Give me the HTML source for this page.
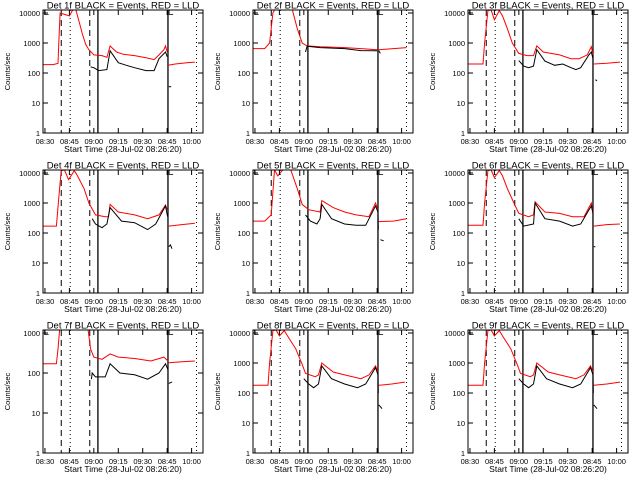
<!DOCTYPE html>
<html><head><meta charset="utf-8"><style>
body{margin:0;background:#fff}
svg{display:block;font-family:"Liberation Sans",sans-serif}
</style></head><body>
<svg id="c" width="640" height="480" viewBox="0 0 640 480"></svg>
<script>
const panelTitles=["Det 1f","Det 2f","Det 3f","Det 4f","Det 5f","Det 6f","Det 7f","Det 8f","Det 9f"];
const tickMinutes=[0,15,30,45,60,75,90];
const tickLabels=["08:30","08:45","09:00","09:15","09:30","08:45","10:00"];
const yMaxDecades=[4,4,4,4,4,4,3,4,4];
const vLineMinutes=[10,15.5,27.5,32.5,75.5,93];
const vLineStyles=["dash","dot","dash","solid","solid","dot"];
const red1=[[-1.2,190],[5,190],[8,210],[8.6,1500],[9.3,10000],[12,9000],[15,8000],[17,13000],[19,13000],[21,5000],[23,2000],[25,900],[27,600],[30,400],[35,380],[38,330],[40,800],[41,700],[44,500],[48,420],[55,380],[62,320],[67,280],[70,400],[73,600],[74,800],[75,500]];
const red1b=[[75.5,180],[80,200],[87,220],[92,230]];
const blk1=[[28,160],[30,150],[33,120],[38,130],[40,550],[45,220],[50,180],[55,150],[62,120],[67,120],[70,300],[74,500],[75,350]];
const blk1b=[[76,35],[77.5,35]];
const red2=[[-1.2,650],[6,650],[9,1000],[11,10000],[12,13000],[23,13000],[26,3000],[29,1000],[32,800],[40,750],[55,700],[65,650],[75,600]];
const red2b=[[76,600],[80,620],[93,700]];
const blk2=[[31,500],[32,780],[40,700],[55,650],[65,560],[75,550]];
const blk2b=[[76,550],[77,450]];
const red3=[[-1.2,200],[8,200],[9,1000],[11,12000],[13,13000],[15,6000],[18,12000],[20,8000],[23,3000],[26,1000],[30,450],[35,380],[39,380],[41,800],[45,500],[55,400],[62,300],[67,300],[72,400],[74.5,750],[75.5,400]];
const red3b=[[76,200],[84,210],[92,230]];
const blk3=[[30,260],[33,170],[36,150],[39,170],[41,600],[46,250],[52,180],[57,200],[62,150],[65,130],[68,150],[73,400],[74.5,500],[75.5,300]];
const blk3b=[[77,60],[78,55]];
const red4=[[-1.2,170],[7,170],[8.5,1500],[10,12000],[12,13000],[14.5,6000],[18,12000],[20,8000],[24,3000],[27,1000],[31,400],[37,350],[39,350],[40,900],[45,500],[55,400],[63,300],[70,400],[74,850],[75,600]];
const red4b=[[76,170],[84,190],[92,210]];
const blk4=[[29,300],[31,200],[35,150],[38,200],[40,700],[47,250],[55,220],[63,130],[68,200],[74,800],[75.3,350]];
const blk4b=[[76,35],[77,40],[78,30]];
const red5=[[-1.2,250],[6,250],[10,400],[12,13000],[14,8000],[17,13000],[22,13000],[26,3000],[29,900],[33,600],[40,500],[41,1200],[48,700],[55,500],[62,400],[70,350],[74,1000],[75.5,600]];
const red5b=[[76,240],[85,250],[93,300]];
const blk5=[[31,400],[34,250],[38,200],[40,300],[41,900],[47,300],[55,200],[62,180],[68,180],[74,800],[75.5,500],[75.7,130]];
const blk5b=[[77,60],[79,55]];
const red6=[[-1.2,180],[8,180],[9,1000],[11,12000],[13,13000],[15,7000],[18,12000],[20,8000],[23,3000],[27,1000],[30,450],[36,350],[39,400],[40,1100],[46,500],[55,450],[63,350],[70,350],[74.5,1000],[75.5,500]];
const red6b=[[76,170],[84,190],[92,200]];
const blk6=[[30,300],[33,170],[39,200],[40,1000],[46,300],[55,250],[63,170],[68,200],[74.5,800],[75.5,450]];
const blk6b=[[76,35],[77,35]];
const red7=[[-1.2,170],[7,170],[8,400],[9,1300]];
const red7m=[[26.5,1300],[28,400],[30,250],[35,220],[40,300],[45,250],[55,230],[65,200],[73,250],[75.5,200]];
const red7b=[[76,180],[84,190],[92,200]];
const blk7=[[28.5,70],[29,100],[31,80],[37,80],[40,170],[46,100],[55,90],[63,70],[70,100],[74,170],[75.5,120]];
const blk7b=[[76,55],[78,60]];
const red8=[[-1.2,180],[8,180],[9,1000],[11,12000],[13,13000],[15,8000],[18,12000],[20,8000],[25,3000],[29,900],[31,450],[37,350],[39,400],[41,1000],[48,500],[55,400],[65,300],[70,400],[74,800],[75.5,500]];
const red8b=[[76,180],[84,200],[92,230]];
const blk8=[[30,300],[33,200],[36,150],[39,200],[41,800],[47,300],[55,200],[63,150],[68,200],[74,700],[75.5,400],[75.7,100]];
const blk8b=[[76,40],[77,35],[78,30]];
const red9=[[-1.2,180],[8,180],[9,1000],[11,12000],[13,13000],[15,8000],[18,12000],[20,8000],[25,3000],[29,900],[31,450],[37,350],[39,400],[41,1000],[48,500],[55,400],[65,300],[70,400],[74,800],[75.5,500]];
const red9b=[[76,180],[84,200],[92,230]];
const blk9=[[30,300],[33,200],[36,150],[39,200],[41,800],[47,300],[55,200],[63,150],[68,200],[74,700],[75.5,400],[75.7,100]];
const blk9b=[[76,40],[77,35],[78,30]];
const redSeries=[[red1,red1b],[red2,red2b],[red3,red3b],[red4,red4b],[red5,red5b],[red6,red6b],[red7,red7m,red7b],[red8,red8b],[red9,red9b]];
const blkSeries=[[blk1,blk1b],[blk2,blk2b],[blk3,blk3b],[blk4,blk4b],[blk5,blk5b],[blk6,blk6b],[blk7,blk7b],[blk8,blk8b],[blk9,blk9b]];

const NS="http://www.w3.org/2000/svg";
const svg=document.getElementById('c');
function mk(tag,attrs,parent){const e=document.createElementNS(NS,tag);for(const k in attrs)e.setAttribute(k,attrs[k]);parent.appendChild(e);return e;}
const colX=[0,210,425], rowY=[0,160,320];
for(let p=0;p<9;p++){
  const ox=colX[p%3], oy=rowY[Math.floor(p/3)];
  const L=ox+43,R=ox+203,T=oy+10,B=oy+133;
  const dMax=yMaxDecades[p], topV=dMax+(dMax==4?0.1:0.075);
  const xs=m=>L+(m+1.2)/(98.2)*(R-L);
  const ys=v=>{let lv=Math.log10(Math.max(v,1));lv=Math.min(lv,topV);return B-lv/topV*(B-T);};
  const g=mk('g',{},svg);
  
  
  const clipId='cl'+p;
  const cp=mk('clipPath',{id:clipId},g);mk('rect',{x:L,y:T,width:R-L,height:B-T},cp);
  vLineMinutes.forEach((m,i)=>{const st=vLineStyles[i];const ln=mk('line',{x1:xs(m),x2:xs(m),y1:T,y2:B,stroke:'#000','stroke-width':st=='solid'?1.3:1,'stroke-dasharray':st=='dash'?'6,4':(st=='dot'?'1,3':'none')},g);
    
    });
  const pts=a=>a.map(d=>xs(d[0]).toFixed(1)+','+ys(d[1]).toFixed(1)).join(' ');
  redSeries[p].forEach(s=>{const pl=mk('polyline',{points:pts(s),fill:'none',stroke:'#f00','stroke-width':1,'clip-path':'url(#'+clipId+')'},g);
    
    });
  blkSeries[p].forEach(s=>{const pl=mk('polyline',{points:pts(s),fill:'none',stroke:'#000','stroke-width':1,'clip-path':'url(#'+clipId+')'},g);
    
    });
  const fr=mk('rect',{x:L,y:T,width:R-L,height:B-T,fill:'none',stroke:'#000','stroke-width':1},g);
  
  
  [-0.2,76.2].forEach(m=>{mk('path',{d:`M${xs(m)+4},${T+4.5}h-4v-4.5`,fill:'none',stroke:'#000','stroke-width':0.8},g);});
  for(let d=0;d<=dMax;d++){const y=ys(Math.pow(10,d));
    mk('line',{x1:L,x2:L+5,y1:y,y2:y,stroke:'#000'},g);mk('line',{x1:R,x2:R-5,y1:y,y2:y,stroke:'#000'},g);
    const t=mk('text',{x:L-3,y:y+3,'text-anchor':'end','font-size':7.5},g);t.textContent=String(Math.pow(10,d));
    
    }
  tickMinutes.forEach((m,i)=>{const x=xs(m);mk('line',{x1:x,x2:x,y1:B,y2:B-5,stroke:'#000'},g);mk('line',{x1:x,x2:x,y1:T,y2:T+5,stroke:'#000'},g);
    const t=mk('text',{x:x,y:B+11,'text-anchor':'middle','font-size':7.5},g);t.textContent=tickLabels[i];
    
    });
  const xt=mk('text',{x:(L+R)/2,y:B+19,'text-anchor':'middle','font-size':8.5},g);xt.textContent='Start Time (28-Jul-02 08:26:20)';
  
  
  const yt=mk('text',{x:0,y:0,'text-anchor':'middle','font-size':7.5,transform:`translate(${ox+10},${(T+B)/2}) rotate(-90)`},g);yt.textContent='Counts/sec';
  
  
  const tt=mk('text',{x:(L+R)/2,y:oy+8.5,'text-anchor':'middle','font-size':9.5},g);tt.textContent=panelTitles[p]+' BLACK = Events, RED = LLD';
  
  
}
</script>
</body></html>
